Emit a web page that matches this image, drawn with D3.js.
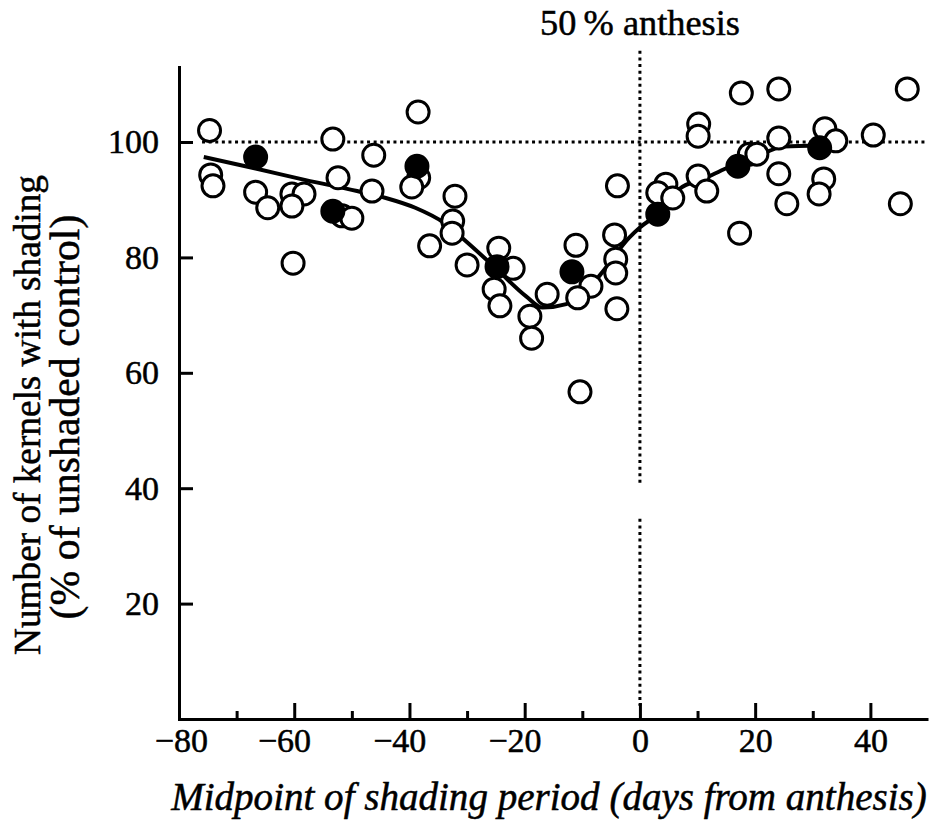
<!DOCTYPE html>
<html>
<head>
<meta charset="utf-8">
<script src="https://cdn.jsdelivr.net/npm/d3@7"></script>
<style>
  html, body { margin: 0; padding: 0; background: #fff; }
  svg { display: block; }
  text { font-family: "Liberation Serif", "DejaVu Serif", serif; fill: #000; stroke: #000; stroke-width: 0.5px; }
</style>
</head>
<body>
<svg id="chart" width="930" height="820"></svg>
<script>
// Individual shading treatments (open circles): days from anthesis, kernels as % of control
const openDays = [-74.7, -74.5, -74.1, -66.7, -64.6, -60.4, -58.3, -60.4, -60.2, -53.3,
  -52.4, -51.7, -50.0, -46.2, -46.5, -38.5, -38.4, -39.6, -32.1, -32.5,
  -32.6, -36.5, -30.0, -24.5, -22.0, -25.3, -24.3, -16.1, -19.1, -18.8,
  -11.1, -8.5, -10.8, -10.4, -4.2, -4.2, -4.4, -4.0, -3.9, 17.6,
  10.2, 10.1, 4.5, 3.1, 5.7, 10.1, 11.6, 17.3, 24.1, 46.4,
  24.1, 19.0, 20.3, 24.1, 25.5, 32.1, 34.0, 31.9, 31.1, 40.5, 45.2];
const openPct = [102.0, 94.3, 92.4, 91.3, 88.6, 91.0, 91.0, 88.9, 79.0, 100.5,
  93.8, 87.2, 86.8, 97.7, 91.5, 105.2, 93.8, 92.2, 90.6, 86.3,
  84.2, 82.0, 78.7, 81.6, 78.1, 74.5, 71.6, 73.6, 69.8, 66.0,
  82.1, 75.0, 73.0, 56.7, 79.7, 77.3, 83.9, 71.1, 92.4, 108.5,
  103.1, 101.0, 92.7, 91.2, 90.3, 94.1, 91.5, 84.2, 109.2, 109.2,
  100.7, 97.9, 97.9, 94.5, 89.3, 102.3, 100.2, 93.6, 91.0, 101.2, 89.3];

// Group means (filled circles)
const meanDays = [-66.7, -53.3, -38.7, -24.8, -11.8, 3.1, 17.0, 31.2];
const meanPct = [97.4, 88.0, 95.8, 78.4, 77.5, 87.5, 95.8, 99.0];

// Fitted response curve
const curveDays = [-75.7, -66.7, -58, -49.1, -44.1, -39, -34, -30.2, -25, -19.8,
  -16.9, -12.8, -9.5, -6.8, -1.9, 0, 3.1, 6.9, 11, 15.1, 20, 25, 31.2];
const curvePct = [97.4, 95.4, 93.4, 91.5, 90.3, 88.6, 86.0, 82.8, 78.1, 73.3,
  71.3, 71.9, 74.0, 77.1, 83.4, 85.2, 87.5, 91.9, 93.6, 95.5, 97.4, 99.2, 99.4];

// Reference lines: unshaded control level and 50 % anthesis
const controlLevel = 100;
const controlFrom = [-76, 50];
const anthesisDay = 0;
const anthesisSpans = [[115.8, 40.4], [34.7, 2.3]];

// Axis ticks
const xMajorTicks = [-80, -60, -40, -20, 0, 20, 40];
const xMinorTicks = [-70, -50, -30, -10, 10, 30];
const yTicks = [20, 40, 60, 80, 100];

const xTitle = "Midpoint of shading period (days from anthesis)";
const yTitle1 = "Number of kernels with shading";
const yTitle2 = "(% of unshaded control)";
const topLabel = "50\u2009% anthesis";

const svg = d3.select("#chart");

const x = d3.scaleLinear().domain([-80, 50]).range([179, 928]);
const y = d3.scaleLinear().domain([0, 113]).range([719, 67]);

const axisStroke = 3;

// y axis with inward ticks
const gy = svg.append("g")
  .attr("transform", `translate(${x(-80)},0)`)
  .call(d3.axisLeft(y).tickValues(yTicks).tickSize(-14).tickSizeOuter(0)
    .tickPadding(20).tickFormat(d3.format("d")));

// x axis: major ticks labelled, minor ticks short
const gx = svg.append("g")
  .attr("transform", `translate(0,${y(0)})`)
  .call(d3.axisBottom(x).tickValues(xMajorTicks).tickSize(-16).tickSizeOuter(0)
    .tickPadding(9).tickFormat(d3.format("d")));
const gxMinor = svg.append("g")
  .attr("transform", `translate(0,${y(0)})`)
  .call(d3.axisBottom(x).tickValues(xMinorTicks).tickSize(-8).tickSizeOuter(0)
    .tickFormat(""));
gxMinor.select(".domain").remove();

[gy, gx, gxMinor].forEach(g => {
  g.selectAll("path, line").attr("stroke", "#000").attr("stroke-width", axisStroke);
  g.selectAll("text").attr("font-size", 34)
    .attr("font-family", "'Liberation Serif', 'DejaVu Serif', serif").attr("fill", "#000");
});
gy.select(".domain").attr("stroke-linecap", "square");
// negative labels: centre the digits on the tick, letting the minus hang left
gx.selectAll(".tick").filter(d => d < 0).select("text").attr("dx", "-0.3em");
// first tick sits on the corner: drop its mark, nudge its label clear of the axis
gx.selectAll(".tick").filter(d => d === -80).select("line").remove();
gx.selectAll(".tick").filter(d => d === -80).select("text").attr("x", 12);

// dotted reference lines
svg.append("line")
  .attr("x1", x(controlFrom[0])).attr("x2", x(controlFrom[1]))
  .attr("y1", y(controlLevel)).attr("y2", y(controlLevel))
  .attr("stroke", "#000").attr("stroke-width", 3).attr("stroke-dasharray", "3,3.6");

anthesisSpans.forEach(s => {
  svg.append("line")
    .attr("x1", x(anthesisDay)).attr("x2", x(anthesisDay))
    .attr("y1", y(s[0])).attr("y2", y(s[1]))
    .attr("stroke", "#000").attr("stroke-width", 3).attr("stroke-dasharray", "3,3.6");
});

// fitted curve
const curvePts = curveDays.map((d, i) => [d, curvePct[i]]);
svg.append("path")
  .datum(curvePts)
  .attr("fill", "none").attr("stroke", "#000").attr("stroke-width", 4)
  .attr("d", d3.line().x(d => x(d[0])).y(d => y(d[1])).curve(d3.curveMonotoneX));

// individual treatments
const openPts = openDays.map((d, i) => [d, openPct[i]]);
svg.append("g").selectAll("circle").data(openPts).join("circle")
  .attr("cx", d => x(d[0])).attr("cy", d => y(d[1])).attr("r", 11)
  .attr("fill", "#fff").attr("stroke", "#000").attr("stroke-width", 3);

// means
const meanPts = meanDays.map((d, i) => [d, meanPct[i]]);
svg.append("g").selectAll("circle").data(meanPts).join("circle")
  .attr("cx", d => x(d[0])).attr("cy", d => y(d[1])).attr("r", 11)
  .attr("fill", "#000").attr("stroke", "#000").attr("stroke-width", 3);

// text labels sized to their span
function fitText(sel, base, width) {
  sel.attr("font-size", base);
  const w = sel.node().getComputedTextLength();
  sel.attr("font-size", base * width / w);
}

const tTop = svg.append("text").attr("x", x(anthesisDay)).attr("y", 35)
  .attr("text-anchor", "middle").text(topLabel);
fitText(tTop, 33, 200);

const tX = svg.append("text").attr("x", 549).attr("y", 810)
  .attr("text-anchor", "middle").attr("font-style", "italic").text(xTitle);
fitText(tX, 33, 756);

const tY1 = svg.append("text").attr("transform", "translate(40,415) rotate(-90)")
  .attr("text-anchor", "middle").text(yTitle1);
fitText(tY1, 33, 480);

const tY2 = svg.append("text").attr("transform", "translate(79,417) rotate(-90)")
  .attr("text-anchor", "middle").text(yTitle2);
fitText(tY2, 33, 405);
</script>
</body>
</html>
